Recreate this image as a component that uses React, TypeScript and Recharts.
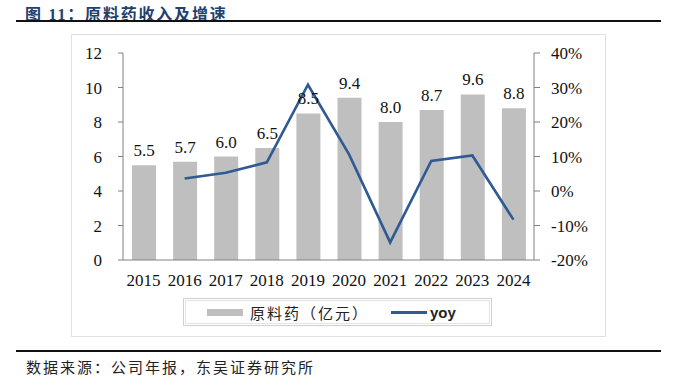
import React from 'react';
import {
  ComposedChart,
  Bar,
  Line,
  XAxis,
  YAxis,
  LabelList,
  Legend
} from 'recharts';

const years = ['2015', '2016', '2017', '2018', '2019', '2020', '2021', '2022', '2023', '2024'];
const revenue = [5.5, 5.7, 6.0, 6.5, 8.5, 9.4, 8.0, 8.7, 9.6, 8.8];
const yoy = [null, 3.6, 5.3, 8.3, 30.8, 10.6, -14.9, 8.7, 10.3, -8.3];
const leftTicks = [0, 2, 4, 6, 8, 10, 12];
const rightTicks = [-20, -10, 0, 10, 20, 30, 40];

const data = years.map((year, i) => ({ year, revenue: revenue[i], yoy: yoy[i] }));

const SERIF = '"Liberation Serif", "Times New Roman", serif';
const CJK = '"Noto Sans CJK SC", sans-serif';
const BAR = '#BFBFBF';
const LINE = '#2F5A93';

function LegendBox() {
  return (
    <div
      style={{
        width: 307,
        height: 26,
        border: '1px solid #D0D0D0',
        boxShadow: 'inset 0 0 0 1px #fff, inset 0 0 0 2px #E4E4E4',
        display: 'flex',
        alignItems: 'center',
        boxSizing: 'content-box'
      }}
    >
      <span style={{ display: 'inline-block', width: 36, height: 7, background: BAR, marginLeft: 23 }} />
      <span style={{ fontFamily: CJK, fontSize: 15, color: '#222', marginLeft: 7, letterSpacing: 2 }}>
        原料药（亿元）
      </span>
      <span style={{ display: 'inline-block', width: 36, height: 3, background: LINE, marginLeft: 22 }} />
      <span style={{ fontFamily: '"Liberation Sans", Arial, sans-serif', fontWeight: 'bold', fontSize: 15, color: '#222', marginLeft: 3 }}>
        yoy
      </span>
    </div>
  );
}

export default function App() {
  return (
    <div style={{ position: 'absolute', left: 0, top: 0, width: 677, height: 390, background: '#fff' }}>
      <div
        style={{
          position: 'absolute',
          left: 25,
          top: 1,
          fontFamily: `${SERIF.split(',')[0]}, ${CJK}`,
          fontWeight: 'bold',
          fontSize: 16,
          letterSpacing: 1.8,
          color: '#22406E',
          whiteSpace: 'nowrap'
        }}
      >
        图 11：原料药收入及增速
      </div>
      <div style={{ position: 'absolute', left: 16, top: 20, width: 645, height: 2, background: '#111' }} />

      <div style={{ position: 'absolute', left: 71, top: 34, width: 533, height: 301, border: '1px solid #E0E0E0' }} />

      <div style={{ position: 'absolute', left: 0, top: 0 }}>
        <ComposedChart
          width={677}
          height={340}
          data={data}
          margin={{ top: 53, right: 83, left: 73, bottom: 50 }}
        >
          <XAxis
            dataKey="year"
            axisLine={{ stroke: '#808080' }}
            tickLine={false}
            tickSize={0}
            tickMargin={14}
            height={30}
            interval={0}
            tick={{ fill: '#111', fontSize: 17, fontFamily: SERIF }}
          />
          <YAxis
            yAxisId="left"
            width={50}
            domain={[0, 12]}
            ticks={leftTicks}
            interval={0}
            axisLine={{ stroke: '#808080' }}
            tickLine={{ stroke: '#808080' }}
            tickSize={5}
            tickMargin={16}
            tick={{ fill: '#111', fontSize: 17, fontFamily: SERIF }}
          />
          <YAxis
            yAxisId="right"
            orientation="right"
            width={60}
            domain={[-20, 40]}
            ticks={rightTicks}
            interval={0}
            axisLine={{ stroke: '#808080' }}
            tickLine={{ stroke: '#808080' }}
            tickSize={6}
            tickMargin={11}
            tickFormatter={(v: number) => `${v}%`}
            tick={{ fill: '#111', fontSize: 17, fontFamily: SERIF, textAnchor: 'start' }}
          />
          <Legend
            verticalAlign="middle"
            align="center"
            content={() => <LegendBox />}
            wrapperStyle={{ position: 'absolute', left: 183, top: 298, width: 309, height: 28 }}
          />
          <Bar yAxisId="left" dataKey="revenue" fill={BAR} barSize={24} isAnimationActive={false}>
            <LabelList
              dataKey="revenue"
              position="top"
              offset={9}
              formatter={(v: number) => v.toFixed(1)}
              style={{ fill: '#111', fontSize: 17, fontFamily: SERIF }}
            />
          </Bar>
          <Line
            yAxisId="right"
            dataKey="yoy"
            type="linear"
            stroke={LINE}
            strokeWidth={2.6}
            dot={false}
            activeDot={false}
            isAnimationActive={false}
          />
        </ComposedChart>
      </div>

      <div style={{ position: 'absolute', left: 16, top: 350, width: 645, height: 2, background: '#111' }} />
      <div
        style={{
          position: 'absolute',
          left: 26,
          top: 356,
          fontFamily: CJK,
          fontSize: 15,
          letterSpacing: 2,
          color: '#222',
          whiteSpace: 'nowrap'
        }}
      >
        数据来源：公司年报，东吴证券研究所
      </div>
    </div>
  );
}
